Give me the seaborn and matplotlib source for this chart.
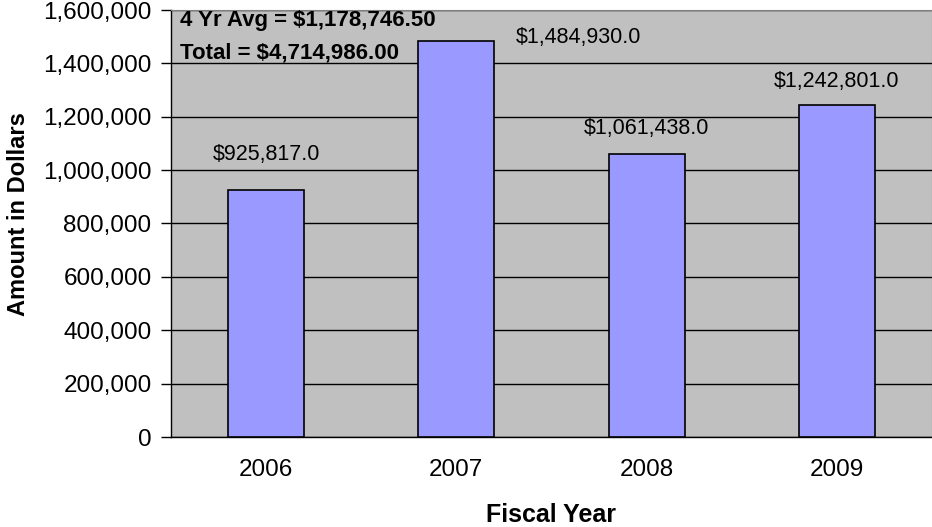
import matplotlib
matplotlib.use("Agg")
import matplotlib.pyplot as plt
import seaborn as sns
import pandas as pd
from matplotlib.ticker import FuncFormatter, MultipleLocator, FixedLocator

# Data
years = ["2006", "2007", "2008", "2009"]
amounts = [925817.0, 1484930.0, 1061438.0, 1242801.0]
avg_text = "4 Yr Avg = $1,178,746.50"
total_text = "Total = $4,714,986.00"

# label offsets in pixels (dx, dy) from the bar top centre
label_offsets = [(0, 35), (122, 3), (0, 25), (0, 24)]

df = pd.DataFrame({"year": years, "amount": amounts})

sns.set_style("white")
plt.rcParams["font.family"] = ["Liberation Sans", "DejaVu Sans"]
plt.rcParams.update({"text.color": "black", "axes.labelcolor": "black",
                     "xtick.color": "black", "ytick.color": "black"})

fig = plt.figure(figsize=(9.32, 5.27), dpi=100)
ax = fig.add_axes([171 / 932, 90 / 527, 761 / 932, 427 / 527])
ax.set_facecolor("#C0C0C0")

sns.barplot(data=df, x="year", y="amount", color="#9999FF", edgecolor="black",
            linewidth=1.2, width=0.4, saturation=1, ax=ax, zorder=3)

ax.set_xlim(-0.5, 3.5)
ax.set_ylim(0, 1600000)
ax.yaxis.set_major_locator(MultipleLocator(200000))
ax.yaxis.set_major_formatter(FuncFormatter(lambda v, p: f"{int(v):,}"))
ax.grid(axis="y", color="black", linewidth=1, zorder=1)
ax.set_axisbelow(True)

ax.xaxis.set_minor_locator(FixedLocator([-0.5, 0.5, 1.5, 2.5, 3.5]))
ax.tick_params(axis="x", which="major", length=0, labelsize=17.5, pad=16)
ax.tick_params(axis="x", which="minor", length=7, width=1, color="black", direction="out")
ax.tick_params(axis="y", length=7, width=1, color="black", direction="out",
               labelsize=17.5, left=True, pad=7)

for side in ["left", "bottom"]:
    ax.spines[side].set_color("black")
    ax.spines[side].set_linewidth(1)
ax.spines["top"].set_color("#808080")
ax.spines["right"].set_color("#808080")

ax.set_xlabel("Fiscal Year", fontsize=18, fontweight="bold")
ax.set_ylabel("Amount in Dollars", fontsize=17, fontweight="bold")
ax.xaxis.set_label_coords(0.5, -0.183)
ax.yaxis.set_label_coords(-0.2, 0.522)
ax.xaxis.label.set_va("center")
ax.yaxis.label.set_va("center")

for i, (val, off) in enumerate(zip(amounts, label_offsets)):
    ax.annotate(f"${val:,.1f}", xy=(i, val), xytext=(off[0] * 0.72, off[1] * 0.72),
                textcoords="offset points", ha="center", va="center",
                fontsize=15.5, color="black")

ax.text(0.012, 0.975, avg_text, transform=ax.transAxes, fontsize=16,
        fontweight="bold", va="center", ha="left")
ax.text(0.012, 0.9, total_text, transform=ax.transAxes, fontsize=16,
        fontweight="bold", va="center", ha="left")

fig.savefig("out.png", dpi=100)
